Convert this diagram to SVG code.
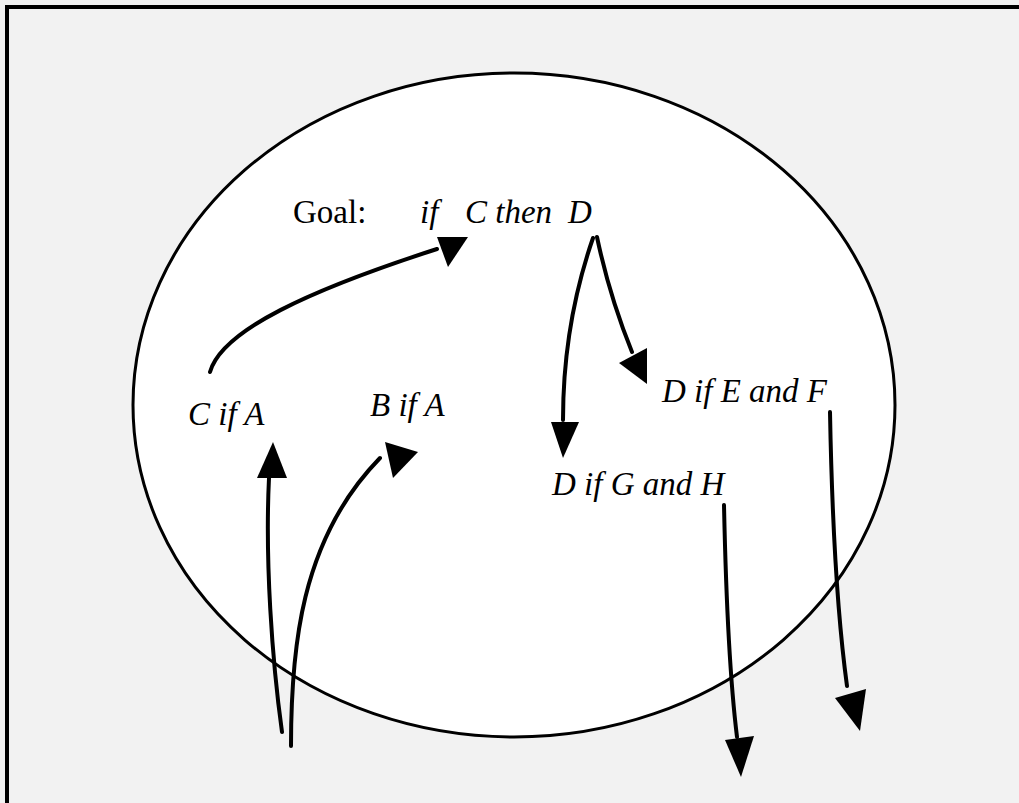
<svg xmlns="http://www.w3.org/2000/svg" width="1019" height="803" viewBox="0 0 1019 803">
<style>
.t{font-family:"Liberation Serif","Times New Roman",serif;font-size:33px;fill:#000}
.i{font-style:italic}
.c{fill:none;stroke:#000;stroke-width:4;stroke-linecap:round}
.h{fill:#000;stroke:none}
</style>
<rect x="0" y="0" width="1019" height="803" fill="#f2f2f2"/>
<path d="M7,803 V7 H1019" fill="none" stroke="#000" stroke-width="4"/>
<g id="boundary"><ellipse cx="514" cy="405" rx="381" ry="332" fill="#fff" stroke="#000" stroke-width="3"/></g>
<g id="goal"><text class="t" x="293" y="223">Goal:</text><text class="t i" y="223"><tspan x="420">if</tspan><tspan x="465">C then</tspan><tspan x="568">D</tspan></text></g>
<g id="cifa"><text class="t i" x="188" y="425">C if A</text></g>
<g id="bifa"><text class="t i" x="370" y="416">B if A</text></g>
<g id="difef"><text class="t i" x="662" y="402">D if E and F</text></g>
<g id="difgh"><text class="t i" x="552" y="495">D if G and H</text></g>
<g id="connectors">
<path class="c" d="M210,372 C222,330 310,290 437,249"/>
<polygon class="h" points="437,237 468,237 448,267"/>
<path class="c" d="M593,238 C575,290 563,350 563,420"/>
<polygon class="h" points="551,422 579,422 563,458"/>
<path class="c" d="M597,237 C605,275 617,315 632,352"/>
<polygon class="h" points="619,363 647,348 647,384"/>
<path class="c" d="M282,732 C272,660 265,560 269,478"/>
<polygon class="h" points="257,478 287,478 273,442"/>
<path class="c" d="M291,746 C291,650 300,540 380,458"/>
<polygon class="h" points="385,442 418,452 393,478"/>
<path class="c" d="M724,505 C726,600 730,680 737,737"/>
<polygon class="h" points="725,740 754,736 741,777"/>
<path class="c" d="M830,412 C832,520 838,620 847,686"/>
<polygon class="h" points="835,698 866,689 860,731"/>
</g>
</svg>
